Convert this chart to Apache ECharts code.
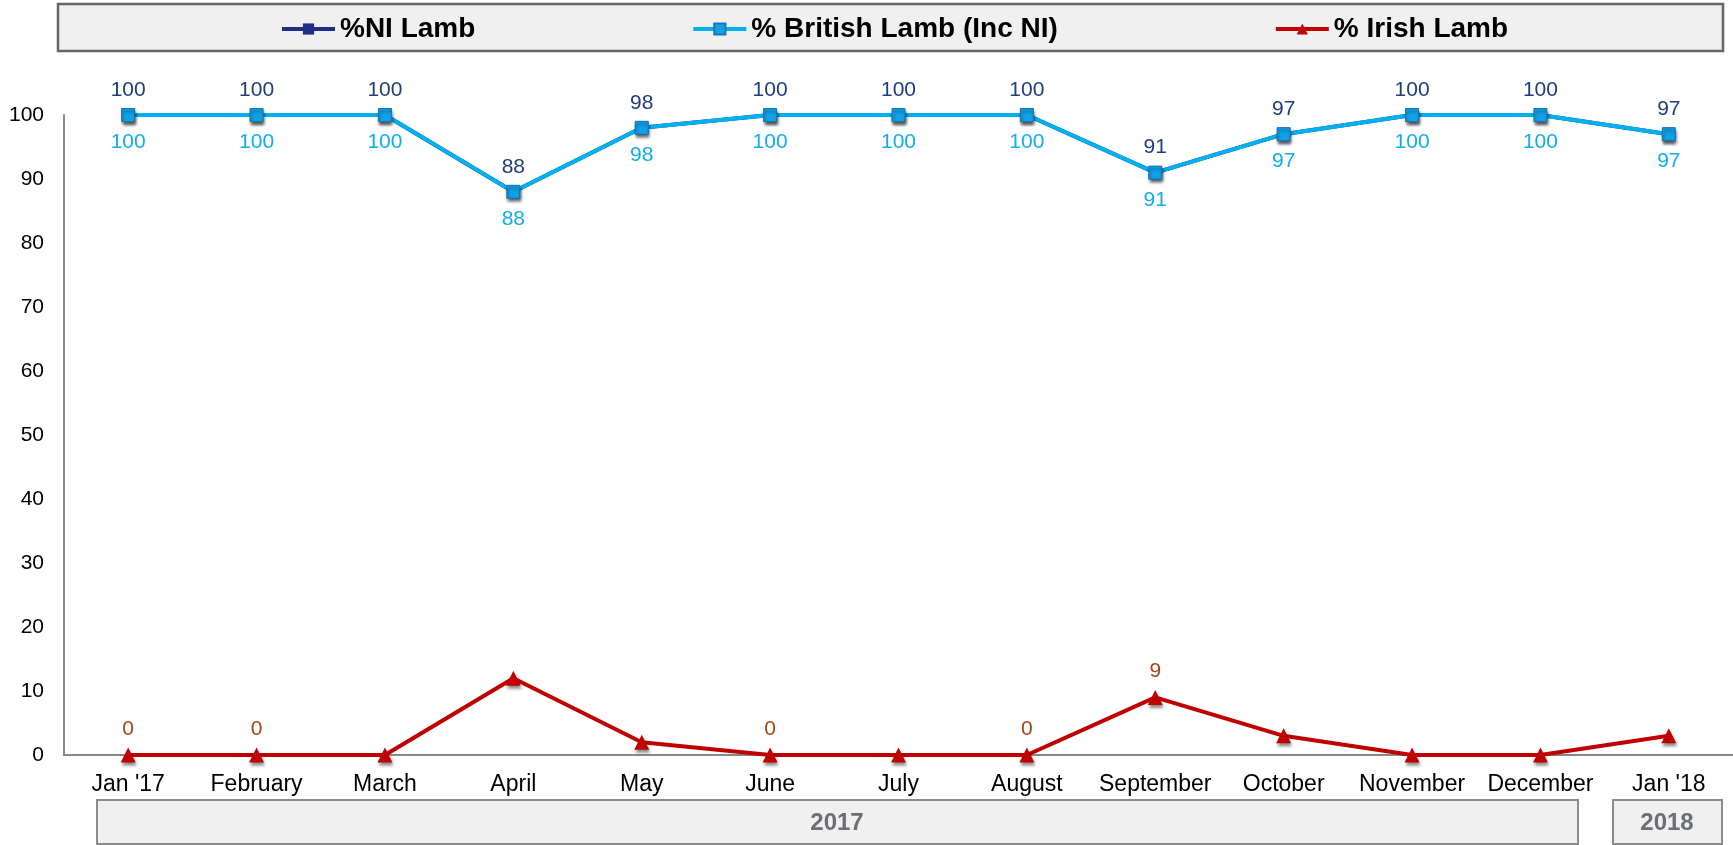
<!DOCTYPE html>
<html lang="en">
<head>
    <meta charset="UTF-8">
    <title>Lamb origin</title>
    <script src="https://cdn.jsdelivr.net/npm/echarts@6/dist/echarts.min.js"></script>
    <style>
        html, body { margin: 0; padding: 0; background: #fff; }
    </style>
</head>
<body>
<div id="main" style="width: 1733px;height:845px;"></div>
<script type="text/javascript">
    // data
    var months = ["Jan '17", "February", "March", "April", "May", "June", "July",
                  "August", "September", "October", "November", "December", "Jan '18"];
    var niLamb = [100, 100, 100, 88, 98, 100, 100, 100, 91, 97, 100, 100, 97];
    var britishLamb = [100, 100, 100, 88, 98, 100, 100, 100, 91, 97, 100, 100, 97];
    var irishLamb = [0, 0, 0, 12, 2, 0, 0, 0, 9, 3, 0, 0, 3];
    // only some of the Irish points carry a label in the original
    var irishLabelShown = [true, true, false, false, false, true, false, true, true, false, false, false, false];
    var yTicks = { min: 0, max: 100, step: 10 };

    var font = "'Liberation Sans', Arial, sans-serif";
    var myChart = echarts.init(document.getElementById("main"));

    var markerShadow = {
        shadowBlur: 3,
        shadowColor: "rgba(0,0,0,0.45)",
        shadowOffsetX: 1,
        shadowOffsetY: 3
    };

    var option = {
        animation: false,
        textStyle: { fontFamily: font },
        graphic: [
            {   // legend frame
                type: "rect", z: 0, silent: true,
                shape: { x: 58, y: 4, width: 1665, height: 47 },
                style: { fill: "#f0f0f0", stroke: "#63666a", lineWidth: 2.5 }
            },
            {
                type: "rect", z: 0, silent: true,
                shape: { x: 97, y: 800, width: 1481, height: 44 },
                style: { fill: "#f0f0f0", stroke: "#8c8c8c", lineWidth: 2 }
            },
            {
                type: "text", z: 1, silent: true,
                x: 837, y: 823,
                style: { text: "2017", fill: "#6b6e72", font: "bold 24px " + font, align: "center", verticalAlign: "middle" }
            },
            {
                type: "rect", z: 0, silent: true,
                shape: { x: 1613, y: 800, width: 109, height: 44 },
                style: { fill: "#f0f0f0", stroke: "#8c8c8c", lineWidth: 2 }
            },
            {
                type: "text", z: 1, silent: true,
                x: 1667, y: 823,
                style: { text: "2018", fill: "#6b6e72", font: "bold 24px " + font, align: "center", verticalAlign: "middle" }
            }
        ],
        legend: {
            left: 275,
            top: 10,
            itemWidth: 53,
            itemHeight: 14,
            itemGap: 216,
            lineStyle: { width: 4 },
            textStyle: { fontSize: 28, fontWeight: "bold", color: "#000", fontFamily: font },
            data: ["%NI Lamb", "% British Lamb (Inc NI)", "% Irish Lamb"]
        },
        grid: { left: 64, right: 0, top: 115, bottom: 90, containLabel: false },
        xAxis: {
            type: "category",
            data: months,
            boundaryGap: true,
            axisTick: { show: false },
            axisLine: { lineStyle: { color: "#888", width: 2 } },
            axisLabel: { color: "#000", fontSize: 23, margin: 18, interval: 0 }
        },
        yAxis: {
            type: "value",
            min: yTicks.min,
            max: yTicks.max,
            interval: yTicks.step,
            splitLine: { show: false },
            axisTick: { show: false },
            axisLine: { show: true, lineStyle: { color: "#888", width: 2 } },
            axisLabel: { color: "#000", fontSize: 21, margin: 20 }
        },
        series: [
            {
                name: "%NI Lamb",
                type: "line",
                data: niLamb,
                symbol: "rect",
                symbolSize: 13,
                color: "#1f2d86",
                lineStyle: { color: "#1f2d86", width: 4 },
                itemStyle: Object.assign({ color: "#1f2d86" }, markerShadow),
                label: { show: true, position: "top", distance: 8, color: "#1f3e7a", fontSize: 21 }
            },
            {
                name: "% British Lamb (Inc NI)",
                type: "line",
                data: britishLamb,
                symbol: "rect",
                symbolSize: 13,
                color: "#00b0f0",
                lineStyle: { color: "#00b0f0", width: 4 },
                itemStyle: Object.assign({ color: "#0ea2e6", borderColor: "#1a72b8", borderWidth: 1 }, markerShadow),
                label: { show: true, position: "bottom", distance: 10, color: "#12aeea", fontSize: 21 }
            },
            {
                name: "% Irish Lamb",
                type: "line",
                data: irishLamb.map(function (v, i) {
                    return { value: v, label: { show: irishLabelShown[i] } };
                }),
                symbol: "triangle",
                symbolSize: 15,
                color: "#c00000",
                lineStyle: { color: "#c00000", width: 4 },
                itemStyle: Object.assign({ color: "#c00000" }, markerShadow),
                label: { position: "top", distance: 8, color: "#a84413", fontSize: 21 }
            }
        ]
    };

    myChart.setOption(option);
</script>
</body>
</html>
